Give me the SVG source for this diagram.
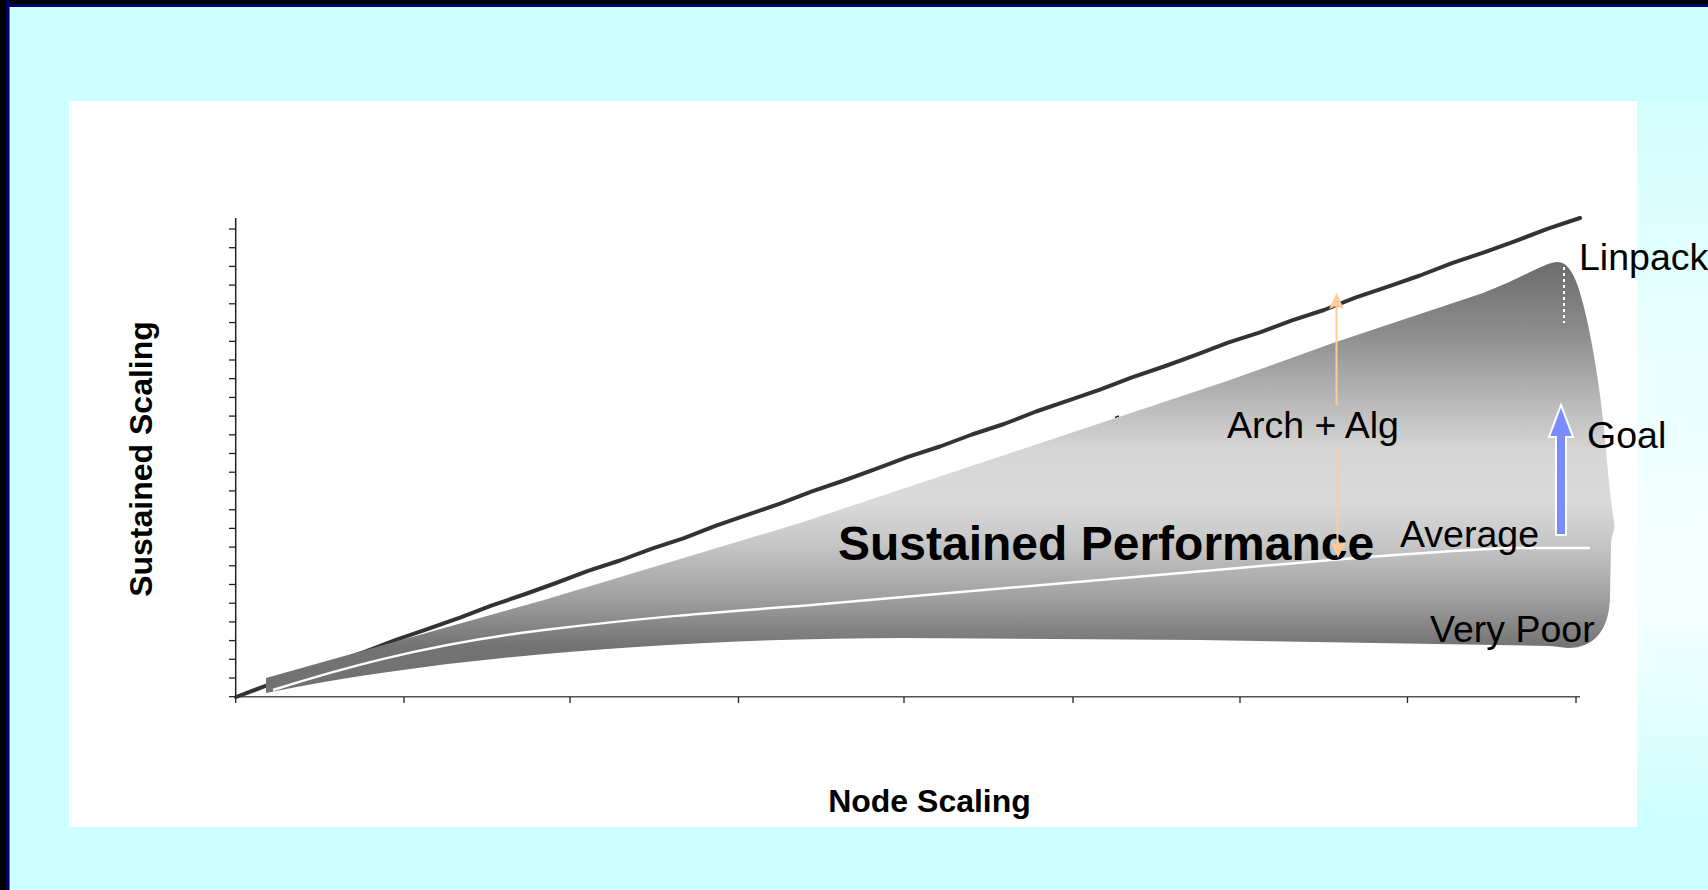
<svg xmlns="http://www.w3.org/2000/svg" width="1708" height="890" viewBox="0 0 1708 890">
  <style>
    .lbl { font-family: "Liberation Sans", Arial, sans-serif; font-size: 37.5px; fill: #000; }
    .ttl { font-family: "Liberation Sans", Arial, sans-serif; font-weight: bold; fill: #000; }
    .tick { stroke: #222; stroke-width: 1.3; }
  </style>
  <defs>
    <linearGradient id="fanFill" gradientUnits="userSpaceOnUse" x1="0" y1="262" x2="0" y2="648">
      <stop offset="0" stop-color="#6c6c6c"/>
      <stop offset="0.18" stop-color="#8c8c8c"/>
      <stop offset="0.36" stop-color="#b8b8b8"/>
      <stop offset="0.49" stop-color="#d6d6d6"/>
      <stop offset="0.62" stop-color="#dadada"/>
      <stop offset="0.73" stop-color="#c6c6c6"/>
      <stop offset="0.87" stop-color="#a0a0a0"/>
      <stop offset="1" stop-color="#727272"/>
    </linearGradient>
    <linearGradient id="sideGlow" x1="0" y1="0" x2="0" y2="1">
      <stop offset="0" stop-color="#d4ffff"/>
      <stop offset="0.3" stop-color="#e8ffff"/>
      <stop offset="0.68" stop-color="#f6ffff"/>
      <stop offset="0.86" stop-color="#e2ffff"/>
      <stop offset="1" stop-color="#ccffff"/>
    </linearGradient>
  </defs>

  <!-- slide background and frame -->
  <g id="background">
    <rect x="0" y="0" width="1708" height="890" fill="#ccffff"/>
    <rect x="1637" y="101" width="71" height="726" fill="url(#sideGlow)"/>
    <rect x="0" y="0" width="1708" height="7" fill="#000066"/>
    <rect x="0" y="0" width="1708" height="4" fill="#000000"/>
    <rect x="0" y="0" width="9" height="890" fill="#000066"/>
    <rect x="0" y="0" width="6" height="890" fill="#000000"/>
    <rect x="9" y="7" width="1" height="883" fill="#6a6acc"/>
  </g>

  <!-- chart panel -->
  <g id="panel">
    <rect x="69" y="101" width="1568" height="726" fill="#ffffff"/>
  </g>

  <!-- axes -->
  <g id="axes">
    <line x1="235.7" y1="218" x2="235.7" y2="697" stroke="#222" stroke-width="1.5"/>
    <line x1="235" y1="696.7" x2="1580" y2="696.7" stroke="#555" stroke-width="1.6"/>
    <g class="tick">
      <line x1="229" y1="229" x2="236" y2="229"/>
      <line x1="229" y1="247.7" x2="236" y2="247.7"/>
      <line x1="229" y1="266.4" x2="236" y2="266.4"/>
      <line x1="229" y1="285.1" x2="236" y2="285.1"/>
      <line x1="229" y1="303.8" x2="236" y2="303.8"/>
      <line x1="229" y1="322.6" x2="236" y2="322.6"/>
      <line x1="229" y1="341.3" x2="236" y2="341.3"/>
      <line x1="229" y1="360" x2="236" y2="360"/>
      <line x1="229" y1="378.7" x2="236" y2="378.7"/>
      <line x1="229" y1="397.4" x2="236" y2="397.4"/>
      <line x1="229" y1="416.1" x2="236" y2="416.1"/>
      <line x1="229" y1="434.8" x2="236" y2="434.8"/>
      <line x1="229" y1="453.5" x2="236" y2="453.5"/>
      <line x1="229" y1="472.2" x2="236" y2="472.2"/>
      <line x1="229" y1="490.9" x2="236" y2="490.9"/>
      <line x1="229" y1="509.7" x2="236" y2="509.7"/>
      <line x1="229" y1="528.4" x2="236" y2="528.4"/>
      <line x1="229" y1="547.1" x2="236" y2="547.1"/>
      <line x1="229" y1="565.8" x2="236" y2="565.8"/>
      <line x1="229" y1="584.5" x2="236" y2="584.5"/>
      <line x1="229" y1="603.2" x2="236" y2="603.2"/>
      <line x1="229" y1="621.9" x2="236" y2="621.9"/>
      <line x1="229" y1="640.6" x2="236" y2="640.6"/>
      <line x1="229" y1="659.3" x2="236" y2="659.3"/>
      <line x1="229" y1="678" x2="236" y2="678"/>
      <line x1="229" y1="696.7" x2="236" y2="696.7"/>
      <line x1="235.7" y1="697" x2="235.7" y2="703"/>
      <line x1="404" y1="697" x2="404" y2="703"/>
      <line x1="570" y1="697" x2="570" y2="703"/>
      <line x1="738.5" y1="697" x2="738.5" y2="703"/>
      <line x1="904" y1="697" x2="904" y2="703"/>
      <line x1="1073" y1="697" x2="1073" y2="703"/>
      <line x1="1240" y1="697" x2="1240" y2="703"/>
      <line x1="1407.5" y1="697" x2="1407.5" y2="703"/>
      <line x1="1576" y1="697" x2="1576" y2="703"/>
    </g>
  </g>

  <!-- ideal (Linpack-like) scaling curve -->
  <g id="ideal-line">
    <polyline fill="none" stroke="#333" stroke-width="4" stroke-linejoin="round" stroke-linecap="round"
      points="236,697 268,685 300,674.6 332,662.8 364,652.2 396,639.8 428,628.8 460,617.6 492,605.4 524,594.5 556,583 588,570.8 620,560.5 652,548.6 684,538.1 716,525.6 748,514.7 780,503.6 812,491.3 844,480.5 876,468.9 908,456.8 940,446.5 972,434.5 1004,424 1036,411.5 1068,400.7 1100,389.6 1132,377.3 1164,366.5 1196,354.9 1228,342.7 1260,332.4 1292,320.4 1324,310 1356,297.4 1388,286.6 1420,275.5 1452,263.2 1484,252.4 1516,240.8 1548,228.6 1580,218"/>
    <line x1="1115" y1="417.5" x2="1119" y2="416" stroke="#222" stroke-width="1.5"/>
  </g>

  <!-- sustained performance envelope -->
  <g id="envelope">
    <path fill="url(#fanFill)" d="M 266,678 L 544,600 L 800,523 L 1230,380 L 1333,343 L 1483,293
      C 1525,277 1545,262 1558,262 C 1568,262 1576,276 1582,300
      C 1592,335 1602,400 1606,450 C 1609,485 1612,510 1614,522
      C 1616,530 1611,534 1611,545 L 1610,595
      C 1610,630 1594,648 1568,648 L 1550,646 L 1200,640 L 904,638
      C 700,638 450,655 266,693 Z"/>
    <path fill="none" stroke="#ffffff" stroke-width="2.5"
      d="M 273,690 C 330,672 420,645 544,630 C 650,617 720,612 800,606 L 1227,569 C 1350,558 1450,550 1513,548 L 1590,548"/>
    <line x1="1564" y1="267" x2="1564" y2="323" stroke="#ffffff" stroke-width="2" stroke-dasharray="3,3"/>
  </g>

  <!-- labels -->
  <g id="label-linpack"><text class="lbl" x="1579" y="270" font-size="37">Linpack</text></g>
  <g id="label-goal"><text class="lbl" x="1587" y="448" font-size="37">Goal</text></g>
  <g id="label-arch"><text class="lbl" x="1227" y="438">Arch + Alg</text></g>
  <g id="label-average"><text class="lbl" x="1400" y="547">Average</text></g>
  <g id="label-poor"><text class="lbl" x="1430" y="642">Very Poor</text></g>
  <g id="label-sustained"><text class="ttl" x="838" y="560" font-size="48">Sustained Performance</text></g>
  <g id="axis-x-title"><text class="ttl" x="929.5" y="811.7" font-size="32" text-anchor="middle">Node Scaling</text></g>
  <g id="axis-y-title"><text class="ttl" font-size="32" text-anchor="middle" transform="translate(152,459) rotate(-90)">Sustained Scaling</text></g>

  <!-- arrows -->
  <g id="connectors">
    <g id="arch-alg-arrow" stroke="#ffcc99" fill="#ffcc99">
      <line x1="1336.5" y1="303" x2="1336.5" y2="405" stroke-width="2"/>
      <polygon points="1336.5,293 1344,309 1336.5,306 1329,309" stroke="none"/>
      <line x1="1337.5" y1="447" x2="1337.5" y2="548" stroke-width="2"/>
      <polygon points="1338,558 1331,542 1338,545 1346,542" stroke="none"/>
    </g>
    <g id="goal-arrow">
      <polygon points="1561,405 1573,437 1566,437 1566,535 1556,535 1556,437 1549,437"
        fill="#7a8cff" stroke="#ffffff" stroke-width="2" stroke-linejoin="miter"/>
    </g>
  </g>
</svg>
